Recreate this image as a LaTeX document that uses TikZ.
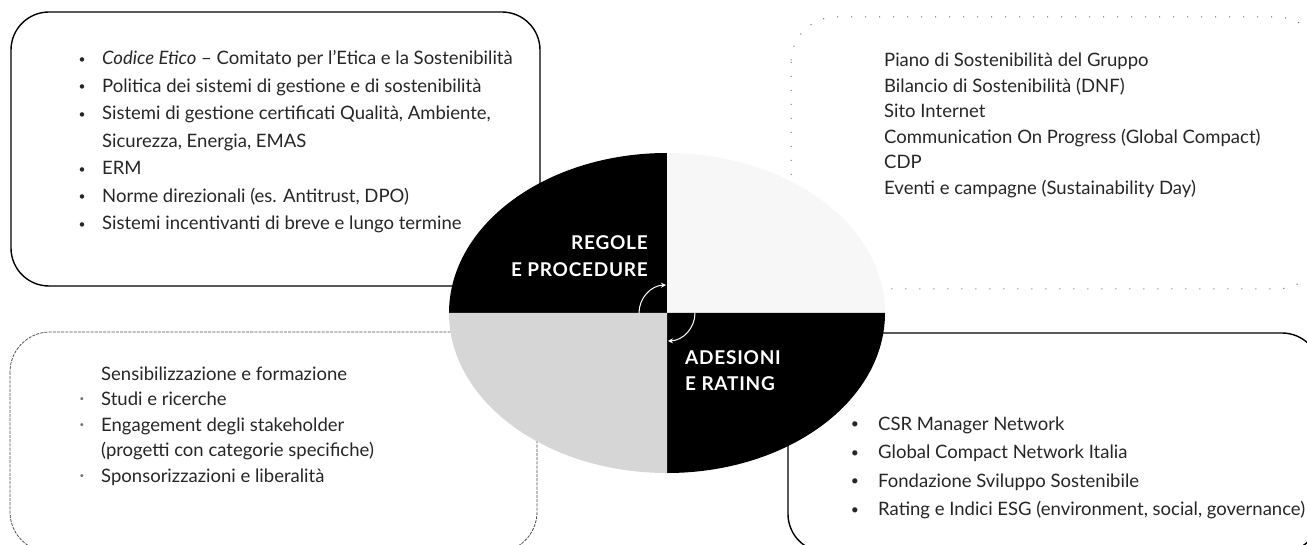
\documentclass[tikz,border=0pt]{standalone}
\usepackage{fontspec}
\setmainfont{Lato}
\newfontfamily\titolofont[LetterSpace=4]{Lato}
\usetikzlibrary{arrows.meta}
\definecolor{testo}{HTML}{262626}
\tikzset{
  voce/.style={anchor=base west, inner sep=0pt, text=testo},
  pallino/.style={anchor=base, inner sep=0pt, text=testo, yshift=1.5pt, font=\fontsize{12}{14}\selectfont},
  titolo/.style={inner sep=0pt, text=white, font=\titolofont\bfseries\fontsize{19}{22}\selectfont},
  boxpieno/.style={draw=black, line width=1.4pt, rounded corners=38pt},
  boxpunti/.style={draw=black!70, line width=0.8pt, dash pattern=on 3pt off 1.2pt, rounded corners=40pt},
  boxrado/.style={draw=black!60, line width=1pt, dash pattern=on 1pt off 13pt, rounded corners=45pt},
  spicchio/.style={x radius=218, y radius=160},
  ciclo/.style={draw=white, line width=1pt, -{Stealth[length=5pt, width=5pt]}}
}
\begin{document}
\begin{tikzpicture}[x=1pt, y=-1pt, font=\fontsize{18.5}{22}\selectfont]
  \useasboundingbox (0,0) rectangle (1307,545);
  \coordinate (centro) at (667,313);
  % riquadri
  \draw[boxpieno] (11,12) rectangle (540,286);
  \draw[boxpunti] (10,332) rectangle (537,552);
  \draw[boxrado] (791,17) rectangle (1322,289);
  \draw[boxpieno] (788,333) rectangle (1320,552);
  % l'ellisse in quattro spicchi
  \fill[black] (centro) -- ++(-218,0) arc[start angle=180, end angle=270, spicchio] -- cycle;
  \fill[black!3] (centro) -- ++(0,-160) arc[start angle=270, end angle=360, spicchio] -- cycle;
  \fill[black] (centro) -- ++(218,0) arc[start angle=0, end angle=90, spicchio] -- cycle;
  \fill[black!16] (centro) -- ++(0,160) arc[start angle=90, end angle=180, spicchio] -- cycle;
  % il piccolo ciclo al centro
  \draw[ciclo] (centro) ++(180:28) arc[start angle=180, end angle=268, radius=28];
  \draw[ciclo] (centro) ++(0:28) arc[start angle=0, end angle=88, radius=28];
  % titoli degli spicchi
  \node[titolo, anchor=base east] (regole) at (648,250) {REGOLE};
  \node[titolo, anchor=base east] (procedure) at (648,277) {E PROCEDURE};
  \node[titolo, anchor=base west] (adesioni) at (685,365) {ADESIONI};
  \node[titolo, anchor=base west] (rating) at (685,391) {E RATING};
  % regole e procedure (in alto a sinistra)
  \foreach \yy/\vb/\vtxt [count=\nn] in {
    65/•/{\emph{Codice Etico} – Comitato per l'Etica e la Sostenibilità},
    92.5/•/{Politica dei sistemi di gestione e di sostenibilità},
    120/•/{Sistemi di gestione certificati Qualità, Ambiente,},
    147.5//{Sicurezza, Energia, EMAS},
    175/•/{ERM},
    202.5/•/{Norme direzionali (es. Antitrust, DPO)},
    230/•/{Sistemi incentivanti di breve e lungo termine}}
  {
    \node[pallino] (rp-b\nn) at (82,\yy) {\vb};
    \node[voce] (rp-\nn) at (102,\yy) {\vtxt};
  }
  % comunicazione (in alto a destra)
  \foreach \yy/\vtxt [count=\nn] in {
    67/{Piano di Sostenibilità del Gruppo},
    92.5/{Bilancio di Sostenibilità (DNF)},
    118/{Sito Internet},
    143.5/{Communication On Progress (Global Compact)},
    169/{CDP},
    194.5/{Eventi e campagne (Sustainability Day)}}
    \node[voce] (co-\nn) at (884,\yy) {\vtxt};
  % sensibilizzazione (in basso a sinistra), punti appena accennati
  \foreach \yy/\vb/\vtxt [count=\nn] in {
    381//{Sensibilizzazione e formazione},
    406/•/{Studi e ricerche},
    431.5/•/{Engagement degli stakeholder},
    456.5//{(progetti con categorie specifiche)},
    482/•/{Sponsorizzazioni e liberalità}}
  {
    \node[pallino, font=\fontsize{8}{10}\selectfont, yshift=2.5pt, text=black!55] (se-b\nn) at (82,\yy) {\vb};
    \node[voce] (se-\nn) at (101,\yy) {\vtxt};
  }
  % adesioni e rating (in basso a destra)
  \foreach \yy/\vtxt [count=\nn] in {
    430/{CSR Manager Network},
    458.5/{Global Compact Network Italia},
    487/{Fondazione Sviluppo Sostenibile},
    515.5/{Rating e Indici ESG (environment, social, governance)}}
  {
    \node[pallino, font=\fontsize{14}{16}\selectfont] (ar-b\nn) at (855,\yy) {•};
    \node[voce] (ar-\nn) at (878,\yy) {\vtxt};
  }
\end{tikzpicture}
\end{document}
